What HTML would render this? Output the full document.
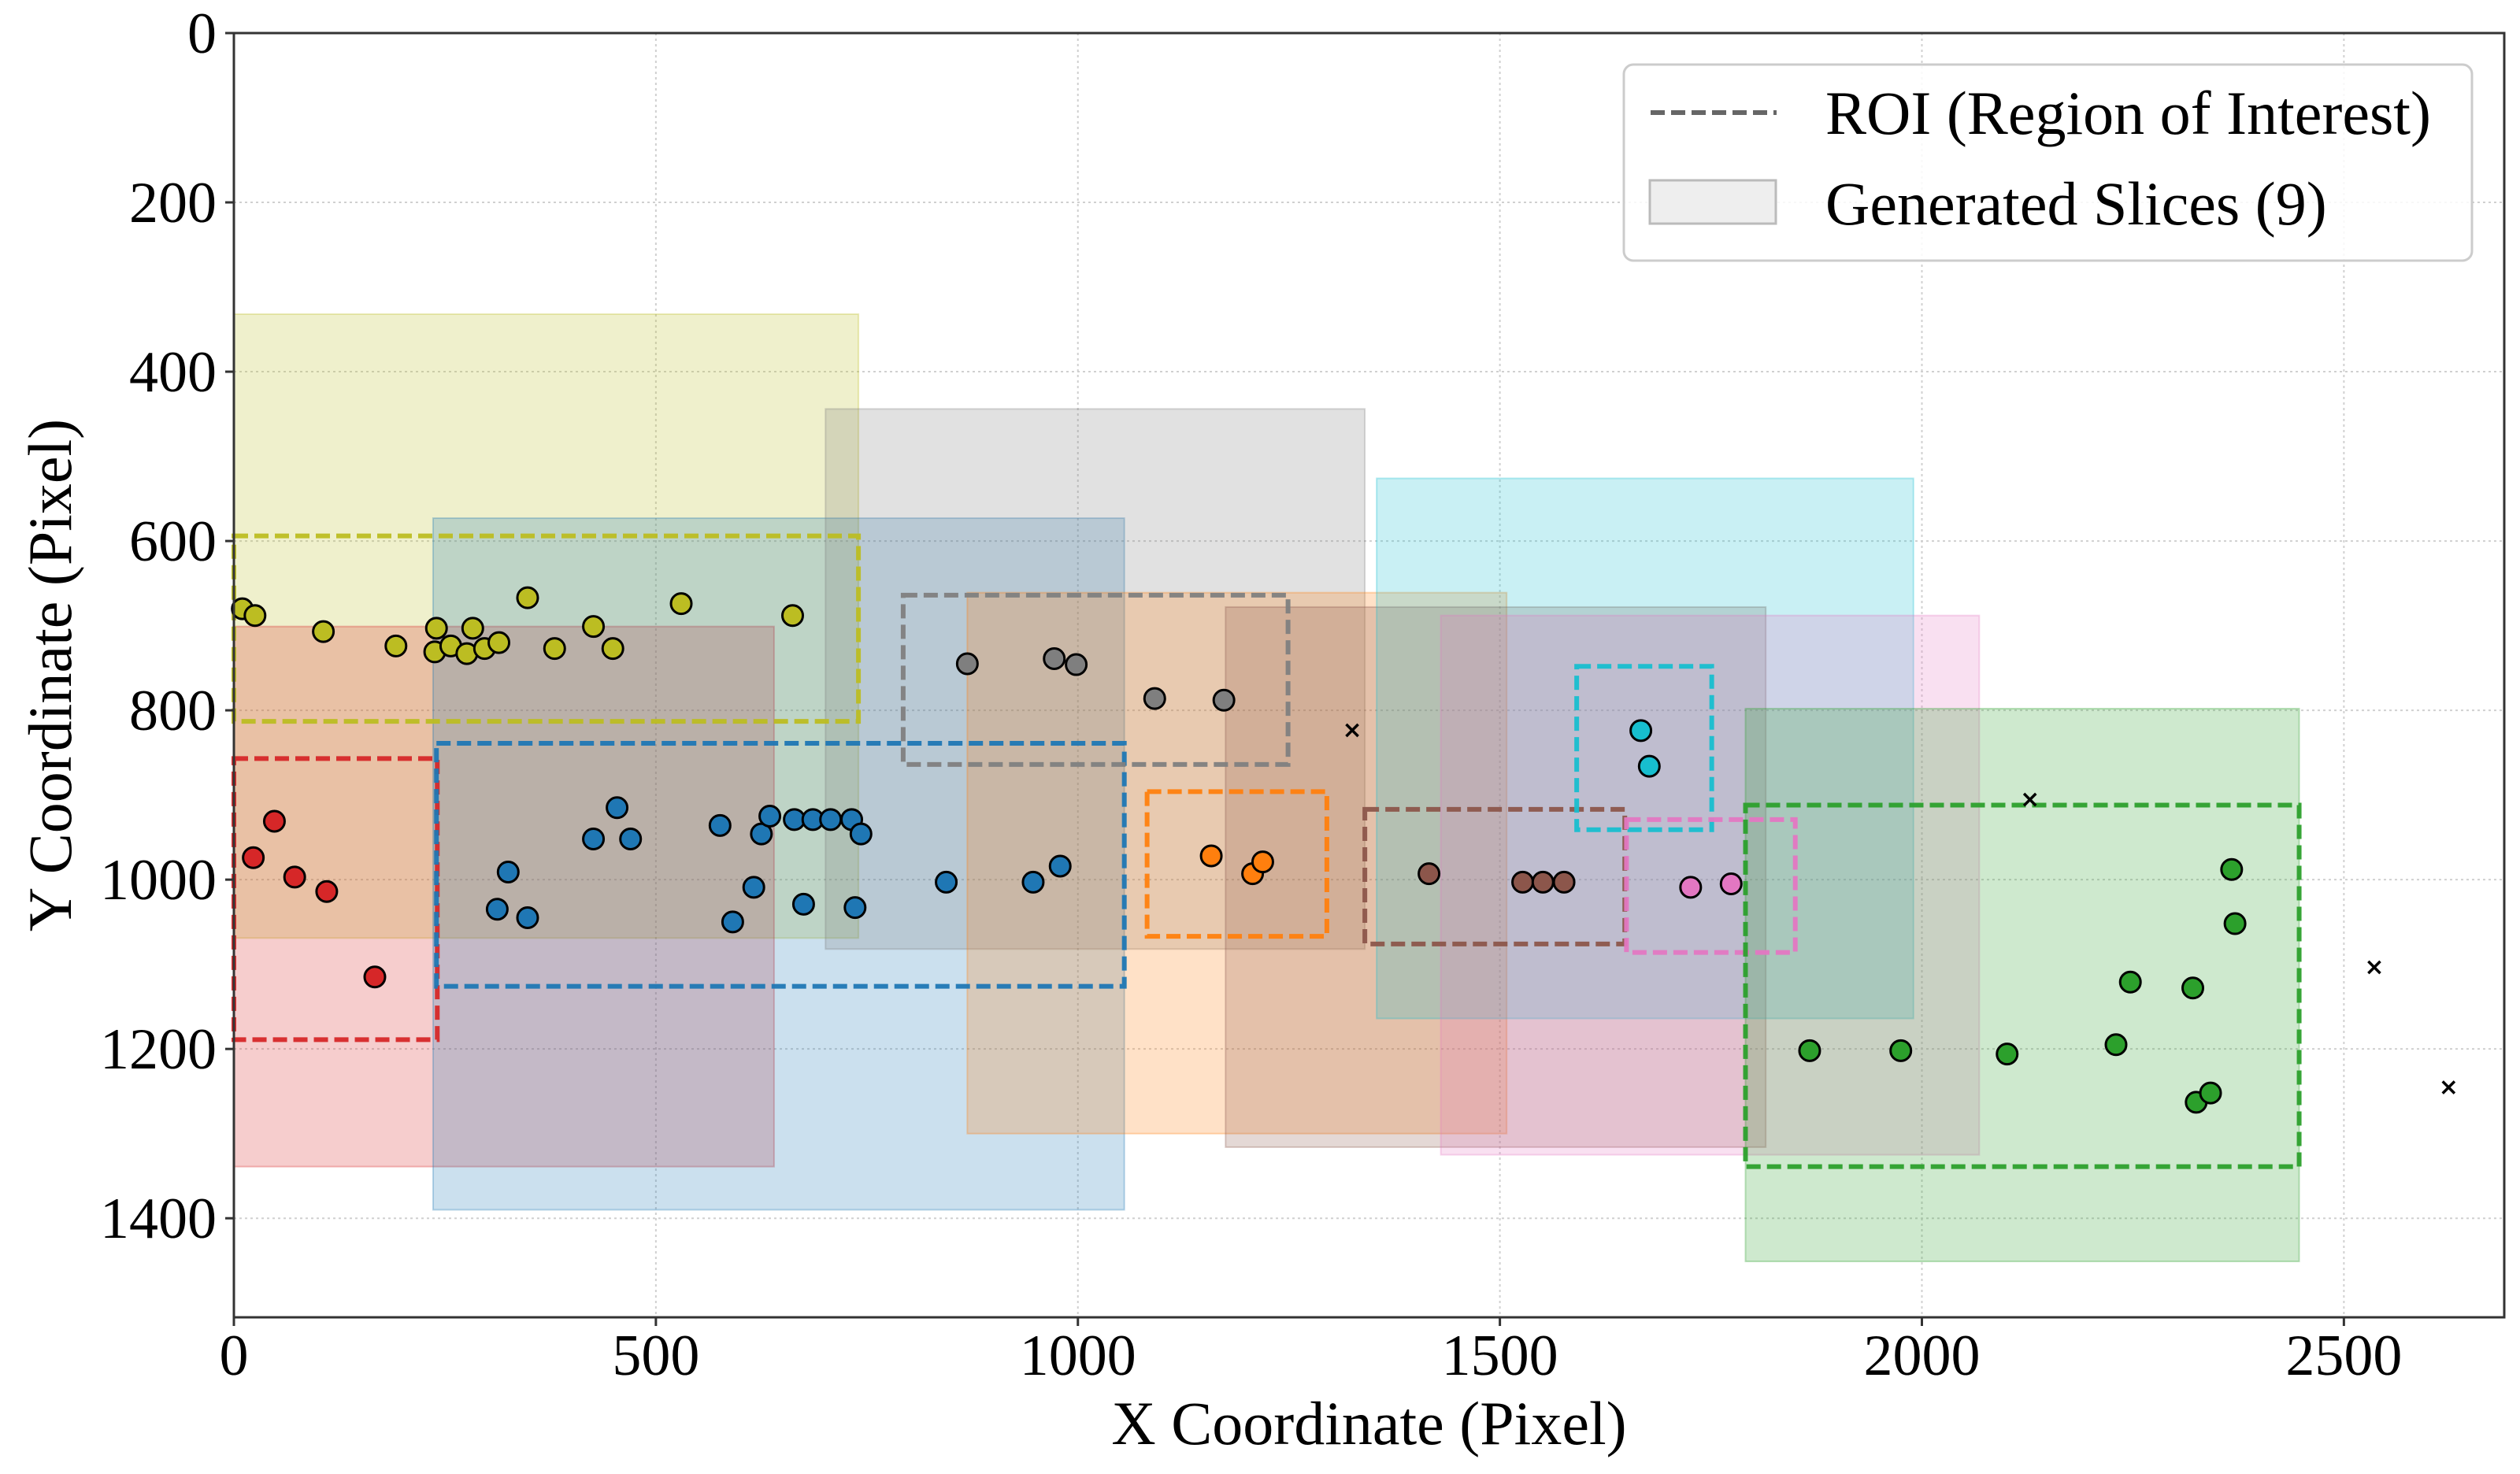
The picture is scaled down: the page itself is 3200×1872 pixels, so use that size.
<!DOCTYPE html>
<html><head><meta charset="utf-8"><style>
html,body{margin:0;padding:0;background:#fff;}
svg{display:block;font-family:"Liberation Serif",serif;}
</style></head><body>
<svg id="chart" width="3200" height="1872" viewBox="0 0 3200 1872" xmlns="http://www.w3.org/2000/svg"></svg>
<script>
const xTicks=[0,500,1000,1500,2000,2500];
const yTicks=[0,200,400,600,800,1000,1200,1400];
const sliceNames=['olive','red','blue','gray','orange','brown','cyan','pink','green'];
const sliceColors=['#bcbd22','#d62728','#1f77b4','#7f7f7f','#ff7f0e','#8c564b','#17becf','#e377c2','#2ca02c'];
const sliceRects=[[0,332,740,1069],[0,701,640,1339],[236,573,1055,1390],[701,444,1340,1082],[869,661,1508,1300],[1175,678,1815,1316],[1354,526,1990,1164],[1430,688,2068,1325],[1791,798,2447,1451]];
const roiRects=[[0,594,740,813],[0,857,241,1189],[240,839,1055,1126],[793,664,1249,864],[1082,896,1295,1067],[1340,917,1648,1076],[1591,748,1751,941],[1650,929,1850,1086],[1791,912,2447,1339]];
const olivePts=[[10,680],[25,688],[106,707],[192,724],[238,731],[240,703],[257,724],[276,733],[283,703],[297,727],[314,720],[348,667],[380,727],[426,701],[449,727],[530,674],[662,688]];
const redPts=[[23,974],[48,931],[72,997],[110,1014],[167,1115]];
const bluePts=[[312,1035],[325,991],[348,1045],[426,952],[454,915],[470,952],[576,936],[591,1050],[616,1009],[625,946],[635,925],[664,929],[675,1029],[686,929],[707,929],[732,929],[736,1033],[743,946],[844,1003],[947,1003],[979,984]];
const grayPts=[[869,745],[972,739],[998,746],[1091,786],[1173,788]];
const orangePts=[[1158,972],[1207,993],[1219,979]];
const brownPts=[[1416,993],[1527,1003],[1551,1003],[1576,1003]];
const cyanPts=[[1667,824],[1677,866]];
const pinkPts=[[1726,1009],[1774,1005]];
const greenPts=[[1867,1202],[1975,1202],[2101,1206],[2230,1195],[2247,1121],[2321,1128],[2325,1263],[2342,1252],[2367,988],[2371,1052]];
const noisePts=[[1325,824],[2128,906],[2536,1104],[2624,1246]];

const L=297,T=42,R=3180,B=1673,XMAX=2690,YMAX=1517;
const sx=v=>L+v*(R-L)/XMAX, sy=v=>T+v*(B-T)/YMAX;
const svg=document.getElementById('chart');
const NS='http://www.w3.org/2000/svg';
function mk(tag,attrs,parent){const e=document.createElementNS(NS,tag);for(const k in attrs)e.setAttribute(k,attrs[k]);(parent||svg).appendChild(e);return e;}

xTicks.forEach(t=>{const g=mk('line',{x1:sx(t),x2:sx(t),y1:T,y2:B,stroke:'#d0d0d0','stroke-width':2,'stroke-dasharray':'3 4'});

});
yTicks.forEach(t=>{const g=mk('line',{x1:L,x2:R,y1:sy(t),y2:sy(t),stroke:'#d0d0d0','stroke-width':2,'stroke-dasharray':'3 4'});

});

sliceRects.forEach((r,i)=>{const e=mk('rect',{x:sx(r[0]),y:sy(r[1]),width:sx(r[2])-sx(r[0]),height:sy(r[3])-sy(r[1]),fill:sliceColors[i],'fill-opacity':0.23,stroke:sliceColors[i],'stroke-opacity':0.3,'stroke-width':2});

});
roiRects.forEach((r,i)=>{const e=mk('rect',{x:sx(r[0]),y:sy(r[1]),width:sx(r[2])-sx(r[0]),height:sy(r[3])-sy(r[1]),fill:'none',stroke:sliceColors[i],'stroke-width':6,'stroke-dasharray':'18 8','stroke-opacity':0.95});

});
const allPts=[olivePts,redPts,bluePts,grayPts,orangePts,brownPts,cyanPts,pinkPts,greenPts];
allPts.forEach((pts,i)=>pts.forEach(p=>{const c=mk('circle',{cx:sx(p[0]),cy:sy(p[1]),r:13,fill:sliceColors[i],stroke:'#000','stroke-width':3});

}));
noisePts.forEach(p=>{const g=mk('text',{x:sx(p[0]),y:sy(p[1])+9,'font-size':30,'font-weight':'bold','text-anchor':'middle','font-family':'DejaVu Sans, sans-serif'});g.textContent='×';

});

const fr=mk('rect',{x:L,y:T,width:R-L,height:B-T,fill:'none',stroke:'#333','stroke-width':3});


xTicks.forEach(t=>{mk('line',{x1:sx(t),x2:sx(t),y1:B,y2:B+11,stroke:'#333','stroke-width':3});
const tx=mk('text',{x:sx(t),y:1746,'font-size':74,'text-anchor':'middle'});tx.textContent=t;

});
yTicks.forEach(t=>{mk('line',{x1:L-11,x2:L,y1:sy(t),y2:sy(t),stroke:'#333','stroke-width':3});
const tx=mk('text',{x:L-22,y:sy(t)+25,'font-size':74,'text-anchor':'end'});tx.textContent=t;

});
const xt=mk('text',{x:(L+R)/2,y:1834,'font-size':78,'text-anchor':'middle'});xt.textContent='X Coordinate (Pixel)';


const yt=mk('text',{x:0,y:0,'font-size':78,'text-anchor':'middle',transform:'translate(90,'+((T+B)/2)+') rotate(-90)'});yt.textContent='Y Coordinate (Pixel)';



const lg=mk('g',{});


mk('rect',{x:2062,y:82,width:1077,height:249,rx:12,fill:'#fff','fill-opacity':0.85,stroke:'#ccc','stroke-width':3},lg);
mk('line',{x1:2096,x2:2256,y1:143,y2:143,stroke:'#666','stroke-width':6,'stroke-dasharray':'18 8'},lg);
const t1=mk('text',{x:2318,y:170,'font-size':78},lg);t1.textContent='ROI (Region of Interest)';


mk('rect',{x:2095,y:229,width:160,height:55,fill:'#eee',stroke:'#bbb','stroke-width':3},lg);
const t2=mk('text',{x:2318,y:285,'font-size':78},lg);t2.textContent='Generated Slices (9)';


</script>
</body></html>
